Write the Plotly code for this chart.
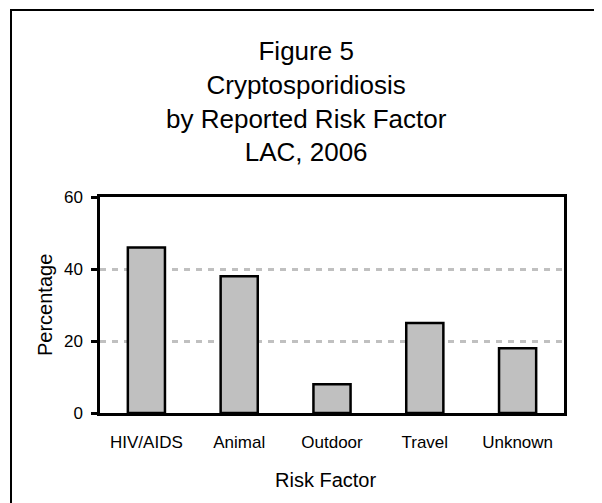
import plotly.graph_objects as go

# data
risk_factors = ["HIV/AIDS", "Animal", "Outdoor", "Travel", "Unknown"]
percentages  = [46, 38, 8, 25, 18]
y_ticks      = [0, 20, 40, 60]

FONT = "Arial, Liberation Sans, sans-serif"

fig = go.Figure()

fig.add_trace(
    go.Bar(
        x      = risk_factors,
        y      = percentages,
        width  = 0.4,
        marker = dict(color="#c0c0c0", line=dict(color="black", width=2.5)),
    )
)

# page body adds 8px, so plot area lands at 100..564 px across, 197..413 px down
fig.update_layout(
    width         = 602,
    height        = 503,
    margin        = dict(l=92, r=46, t=189, b=98),
    paper_bgcolor = "white",
    plot_bgcolor  = "white",
    showlegend    = False,
    font          = dict(family=FONT, color="black", size=17),
)

fig.update_xaxes(
    showline          = True,
    linecolor         = "black",
    linewidth         = 2.5,
    mirror            = True,
    showgrid          = False,
    ticks             = "",
    ticklabelstandoff = 12,
    tickfont          = dict(size=17),
)

fig.update_yaxes(
    range             = [0, 60],
    tickvals          = y_ticks,
    showline          = True,
    linecolor         = "black",
    linewidth         = 2.5,
    mirror            = True,
    ticks             = "outside",
    ticklen           = 6,
    tickwidth         = 2.5,
    tickcolor         = "black",
    ticklabelstandoff = 5,
    showgrid          = True,
    gridcolor         = "#c0c0c0",
    gridwidth         = 3,
    griddash          = "6px,6px",
    zeroline          = False,
    tickfont          = dict(size=17),
)

# title block
fig.add_annotation(
    text      = "Figure 5<br>Cryptosporidiosis<br>by Reported Risk Factor<br>LAC, 2006",
    xref      = "paper", yref = "paper",
    x         = 0.444, y = 1.442,
    xanchor   = "center", yanchor = "middle",
    showarrow = False,
    font      = dict(size=26, family=FONT),
)

# axis titles
fig.add_annotation(
    text = "Risk Factor", xref = "paper", yref = "paper",
    x = 0.485, y = -0.31, xanchor = "center", yanchor = "middle",
    showarrow = False, font = dict(size=20, family=FONT),
)
fig.add_annotation(
    text = "Percentage", xref = "paper", yref = "paper",
    x = -0.1185, y = 0.5, xanchor = "center", yanchor = "middle",
    textangle = -90, showarrow = False, font = dict(size=20, family=FONT),
)

# outer frame, runs off the right and bottom edges
fig.add_shape(
    type = "rect", xref = "paper", yref = "paper",
    x0 = -0.1918, x1 = 1.3, y0 = -0.6, y1 = 1.866,
    line = dict(color="black", width=2),
)

fig.write_html("out.html")
